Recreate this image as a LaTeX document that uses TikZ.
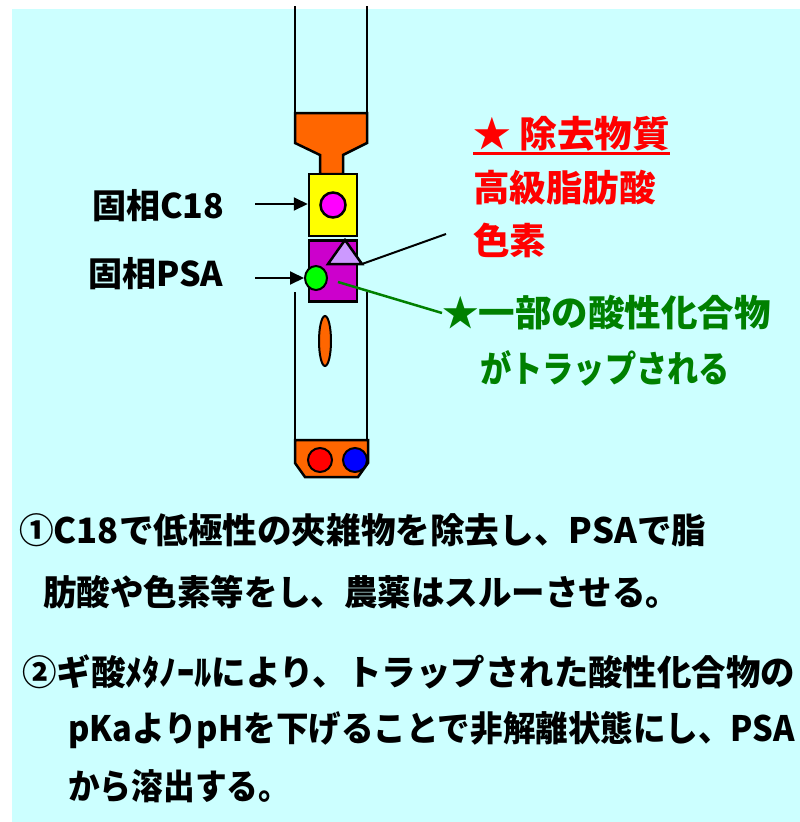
\documentclass[tikz,border=0pt]{standalone}
\usepackage{fontspec}
\usepackage{graphicx}
\usepackage{tikz}
\usetikzlibrary{arrows.meta,shapes.geometric}
\setmainfont{Noto Sans CJK JP}

\definecolor{bgcyan}{HTML}{CCFFFF}
\definecolor{tubeorange}{HTML}{FF6600}
\definecolor{c18yellow}{HTML}{FFFF00}
\definecolor{dotpink}{HTML}{FF00FF}
\definecolor{psapurple}{HTML}{CC00CC}
\definecolor{lavender}{HTML}{CC99FF}
\definecolor{acidgreen}{HTML}{00FF00}
\definecolor{dotred}{HTML}{FF0000}
\definecolor{dotblue}{HTML}{0000FF}
\definecolor{darkgreen}{HTML}{008000}

% stretch or squeeze a line to a given width, height kept
\newcommand\fitw[2]{\resizebox{#1pt}{\height}{#2}}

\tikzset{
  part/.style={draw=black, line width=2.5pt},
  txt/.style={font=\fontsize{35}{40}\selectfont\bfseries, inner sep=0pt, anchor=west},
  pointer/.style={line width=2pt, -{Triangle[length=14pt,width=13pt]}},
}

\begin{document}
\begin{tikzpicture}[x=1pt, y=-1pt]
            \useasboundingbox (0, 0) rectangle (800, 822);
            \fill[bgcyan] (12, 9) rectangle (800, 822);

            \draw[line width=2.5pt] (295, 6) -- (295, 113);
            \draw[line width=2.5pt] (367, 6) -- (367, 113);
            \draw[line width=2.5pt] (295, 292) -- (295, 440);
            \draw[line width=2.5pt] (367, 292) -- (367, 440);

            \draw[part, fill=tubeorange] (295, 113) -- (367, 113) -- (367, 143) -- (343, 155) -- (343, 174)
                -- (320, 174) -- (320, 155) -- (295, 143) -- cycle;

            \node[part, fill=c18yellow, minimum width=48pt, minimum height=62pt, inner sep=0pt] (c18) at (333, 205) {};
            \draw[part, fill=dotpink] (c18.center) circle (12.5);

            \node[part, fill=psapurple, minimum width=48pt, minimum height=61pt, inner sep=0pt] (psa) at (333, 271) {};
            \coordinate (tri) at (362, 264);
            \draw[part, fill=lavender] (345, 240) -- (tri) -- (328, 264) -- cycle;
            \node[part, fill=acidgreen, ellipse, minimum width=22pt, minimum height=24pt, inner sep=0pt, line width=2pt] (acid) at (316, 278) {};
            \coordinate (trap) at (338, 282);

            \draw[part, fill=tubeorange, line width=2pt] (325, 341) ellipse (6 and 25);

            \draw[part, fill=tubeorange] (295, 440) -- (368, 440) -- (368, 463) -- (358, 477) -- (305, 477)
                -- (295, 463) -- cycle;
            \draw[part, fill=dotred, line width=2pt] (320, 460) circle (12);
            \draw[part, fill=dotblue, line width=2pt] (355, 460) circle (12);

            \node[txt, font=\fontsize{34}{40}\selectfont\bfseries] (lc18) at (92, 206) {固相C18};
            \node[txt, font=\fontsize{34}{40}\selectfont\bfseries] (lpsa) at (88, 274) {固相PSA};
            \draw[pointer] (255, 204) -- (c18.west |- 0, 204);
            \draw[pointer] (255, 278) -- (acid.west);

            \node[txt, text=dotred, font=\fontsize{36.5}{40}\selectfont\bfseries] (rem) at (473, 134) {\fitw{197}{★ 除去物質}};
            \draw[dotred, line width=3pt] ([yshift=-2pt]rem.south west) -- ([yshift=-2pt]rem.south east);
            \node[txt, text=dotred, font=\fontsize{36.5}{40}\selectfont\bfseries] (fat) at (473, 188) {高級脂肪酸};
            \node[txt, text=dotred, font=\fontsize{36.5}{40}\selectfont\bfseries] (pig) at (473, 240) {色素};
            \coordinate (pigline) at (446, 234);
            \draw[line width=2pt] (pigline) -- (tri);

            \node[txt, text=darkgreen, font=\fontsize{36.5}{40}\selectfont\bfseries] (part1) at (442, 313) {★一部の酸性化合物};
            \node[txt, text=darkgreen, font=\fontsize{36.5}{40}\selectfont\bfseries] (part2) at (480, 368) {\fitw{250}{がトラップされる}};
            \draw[darkgreen, line width=2.5pt] (trap) -- (part1.west);

            \node[txt] (s1a) at (19, 530) {\fitw{687}{①C18で低極性の夾雑物を除去し、PSAで脂}};
            \node[txt] (s1b) at (43, 592) {\fitw{636}{肪酸や色素等をし、農薬はスルーさせる。}};
            \node[txt] (s2a) at (22, 672) {\fitw{773}{②ギ酸ﾒﾀﾉｰﾙにより、トラップされた酸性化合物の}};
            \node[txt] (s2b) at (68, 730) {\fitw{727}{pKaよりpHを下げることで非解離状態にし、PSA}};
            \node[txt] (s2c) at (68, 786) {\fitw{222}{から溶出する。}};
\end{tikzpicture}
\end{document}
